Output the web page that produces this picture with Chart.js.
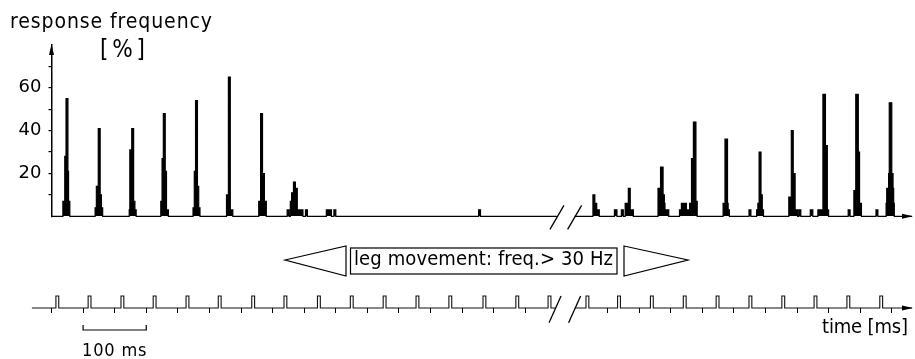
<!DOCTYPE html>
<html>
<head>
<meta charset="utf-8">
<script src="https://cdn.jsdelivr.net/npm/chart.js@4.4.1/dist/chart.umd.min.js"></script>
<style>
  body { margin: 0; background: #fff; }
  #wrap { position: relative; width: 915px; height: 359px; }
  canvas { position: absolute; left: 0; }
  #histChart { top: 0; }
  #stimChart { top: 230px; }
</style>
</head>
<body>
<div id="wrap">
  <canvas id="histChart" width="915" height="230"></canvas>
  <canvas id="stimChart" width="915" height="129"></canvas>
</div>
<script>
// time axis in ms; the stretch after the break is simply shifted along
const xMin = 0, xMax = 1362, stimStart = -31;
const breakStart = 800, breakEnd = 828;

// response histogram, 1 ms bins (%), each burst starts at the given time
const leftBurstStarts = [18, 69, 123, 173, 224, 277, 328, 373, 435, 447, 676];
const leftBurstBins = [
  [7, 7, 7, 28, 28, 55, 55, 55, 21, 7, 7],
  [4, 4, 14, 14, 14, 41, 41, 41, 10, 10, 4, 4],
  [3, 31, 31, 31, 41, 41, 41, 7, 7, 3, 3],
  [7, 7, 27, 27, 48, 48, 48, 21, 21, 3, 3, 3],
  [4, 4, 21, 21, 54, 54, 54, 14, 14, 4, 4],
  [10, 10, 10, 65, 65, 65, 3, 3, 3, 3],
  [7, 7, 7, 48, 48, 48, 20, 20, 20, 7, 7, 7],
  [3, 3, 3, 0, 0, 7, 7, 11, 11, 11, 16, 16, 16, 13, 13, 13, 3, 3, 3, 3, 3, 3, 3, 3, 3, 0, 0, 0, 0, 3, 3, 3],
  [3, 3, 3, 3, 3, 3, 3, 3],
  [3, 3, 3],
  [3, 3, 3]
];
const rightBurstStarts = [857, 891, 960, 994, 1063, 1104, 1116, 1167, 1201, 1213, 1261, 1270, 1305, 1321];
const rightBurstBins = [
  [10, 10, 10, 6, 6, 6, 3, 3, 3, 3],
  [3, 3, 3, 3, 0, 0, 0, 0, 0, 0, 0, 3, 3, 3, 0, 0, 0, 6, 6, 6, 6, 6, 13, 13, 13, 3, 3, 3, 3, 3],
  [13, 13, 13, 13, 23, 23, 23, 23, 10, 10, 6, 3, 3, 3, 3, 3, 3],
  [3, 3, 3, 6, 6, 6, 6, 6, 6, 6, 6, 3, 3, 3, 3, 3, 6, 6, 6, 27, 27, 27, 44, 44, 44, 44, 7, 7],
  [6, 6, 6, 36, 36, 36, 36, 6, 3, 3],
  [3, 3, 3],
  [3, 3, 6, 6, 30, 30, 30, 10, 10, 3, 3],
  [9, 9, 9, 9, 40, 40, 40, 20, 20, 20, 3, 3, 3, 3, 0, 0, 3, 3, 3],
  [3, 3, 3, 3],
  [3, 3, 3, 3, 3, 3, 3, 3, 57, 57, 57, 57, 33, 33, 33, 3, 3],
  [3, 3, 3],
  [12, 12, 12, 57, 57, 57, 57, 30, 30, 6, 6, 6],
  [3, 3, 3],
  [6, 13, 13, 13, 20, 53, 53, 53, 53, 20, 20, 13, 6]
];

// stimulus pulses (onset, ms)
const pulseWidth = 4.5;
const leftPulses = [7, 58, 110, 161, 213, 264, 317, 368, 421, 473, 525, 577, 629, 683, 735, 786];
const rightPulses = [846, 896, 948, 1000, 1052, 1104, 1156, 1207, 1259, 1311];

// tick marks
const timeTicks = [0, 50, 100, 150, 200, 250, 300, 350, 400, 450, 500, 550, 600, 650, 700, 750,
                   880, 930, 980, 1030, 1080, 1130, 1180, 1230, 1280, 1330];
const yTicks = [10, 20, 30, 40, 50, 60, 70];
const scaleBar = [50, 150];

const FONT = '"DejaVu Sans Condensed", "DejaVu Sans", sans-serif';

function histPoints(starts, bins, from, to) {
  const pts = [{x: from, y: 0}];
  starts.forEach((s, k) => {
    bins[k].forEach((v, i) => pts.push({x: s + i, y: v}));
    pts.push({x: s + bins[k].length, y: 0});
  });
  pts.push({x: to, y: 0});
  return pts;
}

function pulsePoints(starts, from, to) {
  const pts = [{x: from, y: 0}];
  starts.forEach(s => {
    pts.push({x: s, y: 1});
    pts.push({x: s + pulseWidth, y: 0});
  });
  pts.push({x: to, y: 0});
  return pts;
}

function histDataset(points) {
  return {
    data: points, stepped: true, fill: 'origin',
    borderColor: '#000', backgroundColor: '#000', borderWidth: 1.2,
    pointRadius: 0, clip: 6
  };
}

function stimDataset(points) {
  return {
    data: points, stepped: true, fill: false,
    borderColor: '#111', borderWidth: 1.1, pointRadius: 0, clip: 6
  };
}

// draw text, stretched by letter spacing to its width in the figure when right is given
function fitText(ctx, text, left, right, baseline, size) {
  ctx.save();
  ctx.font = size + 'px ' + FONT;
  ctx.fillStyle = '#000';
  ctx.textAlign = 'left';
  ctx.textBaseline = 'alphabetic';
  const natural = ctx.measureText(text).width;
  if (right == null) {
    ctx.fillText(text, left, baseline);
  } else if ('letterSpacing' in ctx && text.length > 1) {
    ctx.letterSpacing = ((right - left - natural) / (text.length - 1)) + 'px';
    ctx.fillText(text, left, baseline);
  } else {
    ctx.translate(left, baseline);
    ctx.scale((right - left) / natural, 1);
    ctx.fillText(text, 0, 0);
  }
  ctx.restore();
}

function line(ctx, x1, y1, x2, y2) {
  ctx.beginPath();
  ctx.moveTo(x1, y1);
  ctx.lineTo(x2, y2);
  ctx.stroke();
}

function arrowRight(ctx, x, y) {
  ctx.beginPath();
  ctx.moveTo(x + 1, y);
  ctx.lineTo(x - 10, y - 2.5);
  ctx.lineTo(x - 10, y + 2.5);
  ctx.closePath();
  ctx.fill();
}

const histDecor = {
  id: 'histDecor',
  afterDraw(chart) {
    const {ctx, chartArea, scales: {x, y}} = chart;
    const base = y.getPixelForValue(0);
    ctx.save();
    ctx.fillStyle = '#000';
    ctx.strokeStyle = '#000';
    // y axis arrow
    ctx.beginPath();
    ctx.moveTo(chartArea.left, chartArea.top - 1);
    ctx.lineTo(chartArea.left - 2.5, chartArea.top + 10);
    ctx.lineTo(chartArea.left + 2.5, chartArea.top + 10);
    ctx.closePath();
    ctx.fill();
    arrowRight(ctx, chartArea.right, base);
    // axis break
    ctx.lineWidth = 1.3;
    [breakStart, breakEnd].forEach(t => {
      const cx = x.getPixelForValue(t);
      line(ctx, cx - 7, base + 13, cx + 7, base - 11);
    });
    ctx.restore();
    fitText(ctx, 'response frequency', 10, 212, 28.3, 21);
    fitText(ctx, '[%]', 100, 145, 57, 24);
  }
};

const stimDecor = {
  id: 'stimDecor',
  afterDraw(chart) {
    const {ctx, chartArea, scales: {x, y}} = chart;
    const base = y.getPixelForValue(0);
    ctx.save();
    ctx.fillStyle = '#000';
    ctx.strokeStyle = '#000';
    arrowRight(ctx, chartArea.right, base);
    ctx.lineWidth = 1.3;
    [breakStart - 3, breakEnd].forEach(t => {
      const cx = x.getPixelForValue(t);
      line(ctx, cx - 6, base + 14.7, cx + 6, base - 12);
    });
    // 100 ms scale bar
    const b1 = x.getPixelForValue(scaleBar[0]), b2 = x.getPixelForValue(scaleBar[1]);
    ctx.lineWidth = 1.2;
    ctx.beginPath();
    ctx.moveTo(b1, 95);
    ctx.lineTo(b1, 100);
    ctx.lineTo(b2, 100);
    ctx.lineTo(b2, 95);
    ctx.stroke();
    // banner
    ctx.lineWidth = 1.2;
    ctx.beginPath();
    ctx.moveTo(285, 30);
    ctx.lineTo(346, 16);
    ctx.lineTo(346, 46);
    ctx.closePath();
    ctx.stroke();
    ctx.strokeRect(350.5, 18, 266.5, 26);
    ctx.beginPath();
    ctx.moveTo(624, 16);
    ctx.lineTo(688, 30);
    ctx.lineTo(624, 46);
    ctx.closePath();
    ctx.stroke();
    ctx.restore();
    fitText(ctx, 'leg movement: freq.> 30 Hz', 354, 613, 35, 20);
    fitText(ctx, 'time [ms]', 822, 908, 103.3, 20);
    fitText(ctx, '100 ms', 82, 146.5, 126, 18);
  }
};

const histChart = new Chart(document.getElementById('histChart'), {
  type: 'line',
  data: {
    datasets: [
      histDataset(histPoints(leftBurstStarts, leftBurstBins, xMin, breakStart)),
      histDataset(histPoints(rightBurstStarts, rightBurstBins, breakEnd, xMax))
    ]
  },
  options: {
    responsive: false,
    animation: false,
    layout: { padding: { left: 0, right: 3, top: 45, bottom: 13.7 } },
    plugins: { legend: { display: false }, tooltip: { enabled: false } },
    scales: {
      x: { type: 'linear', min: xMin, max: xMax, display: false },
      y: {
        min: 0,
        max: 80,
        afterFit: s => { s.width = 51.5; s.paddingTop = 0; s.paddingBottom = 0; },
        afterBuildTicks: s => { s.ticks = yTicks.map(v => ({ value: v })); },
        border: { display: true, color: '#000', width: 1.5 },
        grid: { drawOnChartArea: false, drawTicks: true, tickLength: 3, color: '#000', lineWidth: 1.2 },
        ticks: {
          color: '#000',
          padding: 7,
          font: { family: 'DejaVu Sans', size: 18 },
          callback: v => (v % 20 === 0 ? v : '')
        }
      }
    }
  },
  plugins: [histDecor]
});

const stimChart = new Chart(document.getElementById('stimChart'), {
  type: 'line',
  data: {
    datasets: [
      stimDataset(pulsePoints(leftPulses, stimStart, breakStart - 3)),
      stimDataset(pulsePoints(rightPulses, breakEnd, xMax))
    ]
  },
  options: {
    responsive: false,
    animation: false,
    layout: { padding: { left: 31.9, right: 3, top: 66, bottom: 45 } },
    plugins: { legend: { display: false }, tooltip: { enabled: false } },
    scales: {
      x: {
        type: 'linear',
        min: stimStart,
        max: xMax,
        position: 'bottom',
        afterFit: s => { s.height = 6; },
        afterBuildTicks: s => { s.ticks = timeTicks.map(v => ({ value: v })); },
        border: { display: false },
        grid: { drawOnChartArea: false, drawTicks: true, tickLength: 5, color: '#000', lineWidth: 1 },
        ticks: { display: false, autoSkip: false }
      },
      y: { min: 0, max: 1, display: false }
    }
  },
  plugins: [stimDecor]
});
</script>
</body>
</html>
